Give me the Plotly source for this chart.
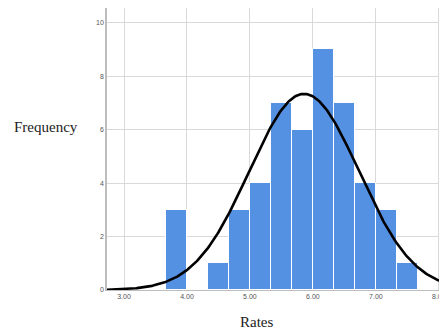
import numpy as np
import plotly.graph_objects as go

# Histogram bins (width 1/3) and counts
bin_starts = [3.6667, 4.0, 4.3333, 4.6667, 5.0, 5.3333, 5.6667, 6.0, 6.3333, 6.6667, 7.0, 7.3333]
counts = [3, 0, 1, 3, 4, 7, 6, 9, 7, 4, 3, 1]
bin_width = 1 / 3

# Fitted normal curve parameters
mean_rate = 5.86
sd_rate = 0.87
n_total = sum(counts)

x_ticks = [3, 4, 5, 6, 7, 8]
x_tick_labels = ["3.00", "4.00", "5.00", "6.00", "7.00", "8.00"]
y_ticks = [0, 2, 4, 6, 8, 10]
y_tick_labels = ["0", "2", "4", "6", "8", "10"]

centers = [s + bin_width / 2 for s in bin_starts]

xc = np.linspace(2.73, 8.2, 300)
yc = n_total * bin_width / (sd_rate * np.sqrt(2 * np.pi)) * np.exp(-0.5 * ((xc - mean_rate) / sd_rate) ** 2)

fig = go.Figure()
fig.add_trace(go.Bar(
    x=centers, y=counts, width=bin_width,
    marker=dict(color="#5591E3", line=dict(color="white", width=1)),
    hoverinfo="skip",
))
fig.add_trace(go.Scatter(
    x=xc, y=yc, mode="lines",
    line=dict(color="black", width=2.6),
    hoverinfo="skip", cliponaxis=True,
))

fig.update_layout(
    width=447, height=323,
    margin=dict(l=99, r=8, t=0, b=41, autoexpand=False),
    paper_bgcolor="white", plot_bgcolor="white",
    showlegend=False,
    bargap=0,
    xaxis=dict(
        range=[2.73, 8.13], tickvals=x_ticks, ticktext=x_tick_labels,
        automargin=False,
        showgrid=True, gridcolor="#d9d9d9", gridwidth=1,
        showline=True, linecolor="#bdbdbd", linewidth=1,
        ticks="", tickfont=dict(family="Liberation Sans, Arial", size=7, color="#555"),
        zeroline=False,
    ),
    yaxis=dict(
        range=[0, 10.55], tickvals=y_ticks, ticktext=y_tick_labels,
        automargin=False,
        showgrid=True, gridcolor="#d9d9d9", gridwidth=1,
        showline=True, linecolor="#bdbdbd", linewidth=1.5,
        ticks="", tickfont=dict(family="Liberation Sans, Arial", size=7, color="#555"),
        zeroline=False,
    ),
    annotations=[
        dict(text="Frequency", xref="paper", yref="paper", x=-0.279, y=0.578,
             xanchor="left", yanchor="middle", showarrow=False,
             font=dict(family="Liberation Serif, Times New Roman", size=15, color="#222")),
        dict(text="Rates", xref="paper", yref="paper", x=0.441, y=-0.113,
             xanchor="center", yanchor="middle", showarrow=False,
             font=dict(family="Liberation Serif, Times New Roman", size=15, color="#222")),
    ],
)

fig.write_html("out.html")
